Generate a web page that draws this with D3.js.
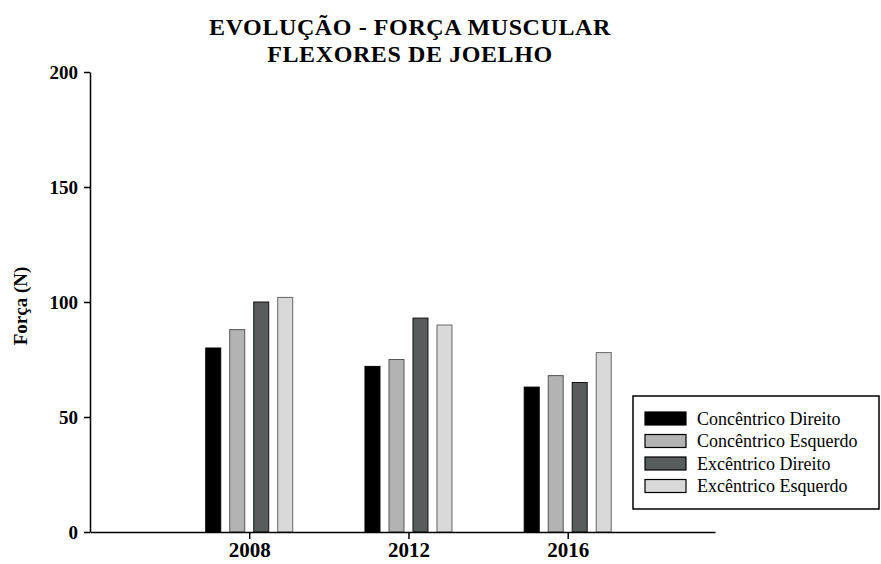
<!DOCTYPE html>
<html lang="pt">
  <head>
    <meta charset="utf-8">
    <title>Evolução - Força Muscular</title>
    <script src="https://cdn.jsdelivr.net/npm/d3@7"></script>
    <style>
      body { margin: 0; background: #fff; }
      text { font-family: "Liberation Serif", "DejaVu Serif", serif; fill: #000; }
      .title { font-size: 24px; font-weight: bold; letter-spacing: 0.6px; }
      .axis text { font-size: 21px; font-weight: bold; }
      .y.axis text { font-size: 19px; }
      .axis path, .axis line { stroke: #000; stroke-width: 1.5; }
      .ylabel { font-size: 19px; font-weight: bold; }
      .legend text { font-size: 18px; }
    </style>
  </head>
  <body>
    <script>
      var years = [2008, 2012, 2016];
      var seriesNames = ["Concêntrico Direito", "Concêntrico Esquerdo", "Excêntrico Direito", "Excêntrico Esquerdo"];
      var concDireito = [80, 72, 63];
      var concEsquerdo = [88, 75, 68];
      var excDireito = [100, 93, 65];
      var excEsquerdo = [102, 90, 78];
      var yTicks = [0, 50, 100, 150, 200];
      var fills = ["#000000", "#b3b3b3", "#585c5c", "#d9d9d9"];
      var strokes = ["#000000", "#555555", "#111111", "#666666"];

      var w = 881, h = 564;
      var allValues = [concDireito, concEsquerdo, excDireito, excEsquerdo];

      var svg = d3.select("body").append("svg")
                  .attr("width", w)
                  .attr("height", h);

      var xScale = d3.scaleLinear()
                     .domain([2004, 2019.7])
                     .range([90, 715]);
      var yScale = d3.scaleLinear()
                     .domain([0, 200])
                     .range([532, 72]);
      var inner = d3.scaleBand()
                    .domain(seriesNames)
                    .range([-43.5, 43.5])
                    .paddingInner(0.375);

      // title
      svg.append("text").attr("class", "title")
         .attr("x", 410).attr("y", 34.5).attr("text-anchor", "middle")
         .text("EVOLUÇÃO - FORÇA MUSCULAR");
      svg.append("text").attr("class", "title")
         .attr("x", 410).attr("y", 61.5).attr("text-anchor", "middle")
         .text("FLEXORES DE JOELHO");

      // bars
      seriesNames.forEach(function (name, i) {
        svg.append("g")
           .selectAll("rect")
           .data(allValues[i])
           .enter()
           .append("rect")
           .attr("x", function (d, j) { return xScale(years[j]) + inner(name); })
           .attr("y", function (d) { return yScale(d); })
           .attr("width", inner.bandwidth())
           .attr("height", function (d) { return yScale(0) - yScale(d); })
           .attr("fill", fills[i])
           .attr("stroke", strokes[i])
           .attr("stroke-width", 1);
      });

      var yAxis = d3.axisLeft(yScale).tickValues(yTicks).tickSize(6).tickSizeOuter(0).tickPadding(6);
      var xAxis = d3.axisBottom(xScale).tickValues(years).tickFormat(d3.format("d")).tickSize(7).tickSizeOuter(0).tickPadding(3);

      svg.append("g").attr("class", "y axis")
         .attr("transform", "translate(90,0)")
         .call(yAxis);
      svg.append("g").attr("class", "x axis")
         .attr("transform", "translate(0,532)")
         .call(xAxis);

      svg.append("text").attr("class", "ylabel")
         .attr("transform", "translate(27,306) rotate(-90)")
         .attr("text-anchor", "middle")
         .text("Força (N)");

      // legend
      var legend = svg.append("g").attr("class", "legend");
      legend.append("rect")
            .attr("x", 633).attr("y", 396)
            .attr("width", 246).attr("height", 113)
            .attr("fill", "#fff").attr("stroke", "#000").attr("stroke-width", 1.5);
      var rows = legend.selectAll(".row")
                       .data(seriesNames)
                       .enter().append("g")
                       .attr("class", "row")
                       .attr("transform", function (d, i) { return "translate(645," + (412 + i * 22.5) + ")"; });
      rows.append("rect")
          .attr("width", 41).attr("height", 13)
          .attr("fill", function (d, i) { return fills[i]; })
          .attr("stroke", "#000").attr("stroke-width", 1.2);
      rows.append("text")
          .attr("x", 52).attr("y", 12.5)
          .text(function (d) { return d; });
    </script>
  </body>
</html>
